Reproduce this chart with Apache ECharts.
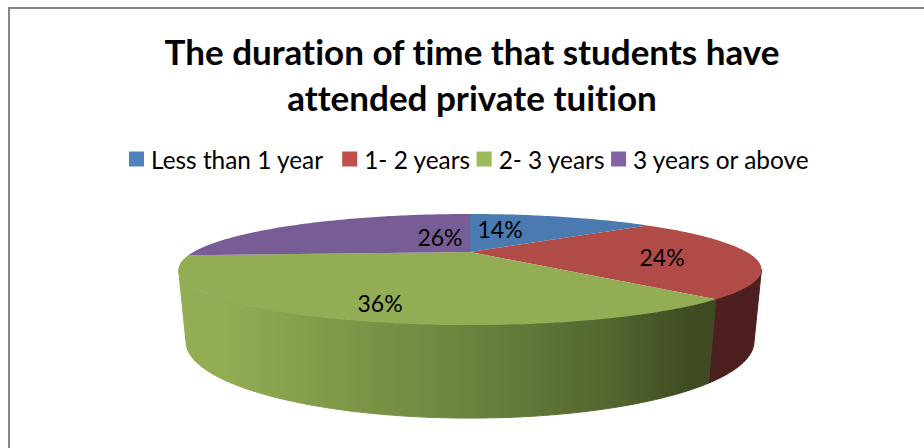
<!DOCTYPE html>
<html>
<head>
<meta charset="utf-8">
<style>
html,body{margin:0;padding:0;background:#fff}
#chart{width:924px;height:448px}
#chart text{font-variant-ligatures:none !important}
</style>
<script src="https://cdn.jsdelivr.net/npm/echarts@6/dist/echarts.min.js"></script>
</head>
<body>
<div id="chart"></div>
<script>
// Share of students by how long they have attended private tuition (percent)
const categories = ['Less than 1 year', '1- 2 years', '2- 3 years', '3 years or above'];
const shares = [14, 24, 36, 26];
const titleText = 'The duration of time that students have\nattended private tuition';

// Colours: legend swatch, top face of the slice
const swatchColors = ['#4f81bd', '#c0504d', '#9bbb59', '#8064a2'];
const topColors = ['#4a7aaf', '#b04b48', '#92ad53', '#785c96'];

// Where each percentage sits on the disc, as (across, towards viewer) in unit-disc terms
const labelSpots = [[0.127, -0.538], [0.673, 0.097], [-0.246, 0.772], [-0.12, -0.331]];

// Perspective view of the disc: cx/cy is the disc centre on the page,
// p the foreshortening, drop/shrink describe the lower rim of the cylinder.
const view = { cx: 470, cy: 252, r: 276.6, k: 50, p: 0.315, drop: 67.7, shrink: 0.0236 };

function project(u, v, lower) {
  const w = 1 - view.p * v + (lower ? view.shrink : 0);
  return [
    view.cx + view.r * u / w,
    view.cy + (view.k * v + (lower ? view.drop : 0)) / w
  ];
}
// Angle is clockwise from twelve o'clock, in fractions of a full turn
function rimPoint(turn, lower) {
  const a = turn * Math.PI * 2;
  return project(Math.sin(a), -Math.cos(a), lower);
}
function arc(from, to, lower) {
  const pts = [];
  const n = Math.max(2, Math.ceil(Math.abs(to - from) * 360));
  for (let i = 0; i <= n; i++) pts.push(rimPoint(from + (to - from) * i / n, lower));
  return pts;
}

const total = shares.reduce((a, b) => a + b, 0);
const starts = shares.map((_, i) => shares.slice(0, i).reduce((a, b) => a + b, 0) / total);

// The wall of the cylinder is visible between the two silhouette angles of the top rim
const silhouetteAngle = Math.asin(view.p) / (Math.PI * 2);
const frontFrom = 0.25 + silhouetteAngle;
const frontTo = 0.75 - silhouetteAngle;

// Horizontal shading of the wall
function wallFill(i) {
  if (i === 1) return '#4d1f1e';
  return new echarts.graphic.LinearGradient(0, 0, 1, 0, [
    { offset: 0, color: '#92ad53' },
    { offset: 0.08, color: '#92ad53' },
    { offset: 0.3, color: '#7f9849' },
    { offset: 0.55, color: '#6b823e' },
    { offset: 0.8, color: '#53662f' },
    { offset: 0.95, color: '#3f4c22' },
    { offset: 1, color: '#3f4a22' }
  ]);
}

function sliceRenderer(i) {
  return function () {
    const from = starts[i];
    const to = from + shares[i] / total;
    const children = [];
    const a = Math.max(from, frontFrom);
    const b = Math.min(to, frontTo);
    if (b > a) {
      const wall = arc(a, b, false).concat(arc(b, a, true));
      const fill = wallFill(i);
      // A thin stroke in the same paint closes the seam under the top face
      children.push({
        type: 'polygon',
        shape: { points: wall },
        style: { fill, stroke: fill, lineWidth: 1 }
      });
    }
    const face = [project(0, 0, false)].concat(arc(from, to, false));
    children.push({
      type: 'polygon',
      shape: { points: face },
      style: { fill: topColors[i] }
    });
    const spot = project(labelSpots[i][0], labelSpots[i][1], false);
    children.push({
      type: 'text',
      z2: 10,
      style: {
        x: spot[0], y: spot[1],
        text: shares[i] + '%',
        align: 'center', verticalAlign: 'middle',
        fill: '#000',
        font: '23px Lato'
      }
    });
    return { type: 'group', children };
  };
}

const chart = echarts.init(document.getElementById('chart'), null, { renderer: 'svg' });
chart.setOption({
  animation: false,
  backgroundColor: '#fff',
  title: {
    text: titleText,
    left: 467,
    top: 23,
    textAlign: 'center',
    textStyle: { fontFamily: 'Lato', fontWeight: 'bold', fontSize: 35, lineHeight: 46, color: '#000' }
  },
  legend: {
    left: 129, top: 147,
    padding: 0,
    icon: 'rect',
    itemWidth: 15, itemHeight: 15, itemGap: 6,
    textStyle: { fontFamily: 'Lato', fontSize: 24.4, color: '#000', padding: [0, 0, 0, 2] },
    // The first entry leaves a wider gap before the next swatch
    formatter: name => name === categories[0] ? name + '  ' : name,
    data: categories
  },
  graphic: [{
    type: 'polyline',
    silent: true,
    shape: { points: [[9, 448], [9, 8], [924, 8]] },
    style: { stroke: '#868686', lineWidth: 2, fill: null }
  }],
  series: categories.map((name, i) => ({
    type: 'custom',
    name,
    coordinateSystem: 'none',
    itemStyle: { color: swatchColors[i] },
    data: [shares[i]],
    renderItem: sliceRenderer(i)
  }))
});
</script>
</body>
</html>
